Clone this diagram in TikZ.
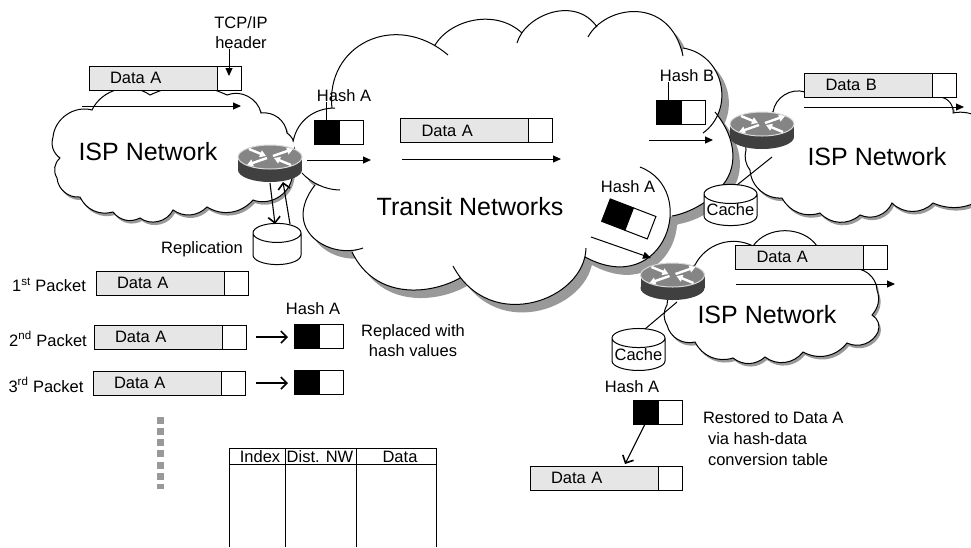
\documentclass[tikz,border=0pt]{standalone}
\usepackage{fontspec}
\setmainfont{Liberation Sans}
\usepackage{tikz}
\usetikzlibrary{arrows.meta,positioning,shapes.geometric}
\definecolor{dataGray}{HTML}{E6E6E6}
\definecolor{shadowGray}{HTML}{999999}
\definecolor{routerDark}{HTML}{404040}
\definecolor{routerTop}{HTML}{858585}
\definecolor{routerRim}{HTML}{D9D9D9}
\tikzset{
  every node/.style={font=\fontsize{16.5}{20}\selectfont,inner sep=0pt,outer sep=0pt},
  databox/.style={draw,line width=1pt,fill=dataGray,text width=86pt,inner xsep=21pt,minimum height=24pt,align=left},
  hdrbox/.style={draw,line width=1pt,fill=white,minimum width=24pt,minimum height=24pt},
  hashblack/.style={draw,line width=1pt,fill=black,minimum width=25pt,minimum height=24pt},
  hashwhite/.style={draw,line width=1pt,fill=white,minimum width=24pt,minimum height=24pt},
  cachedisk/.style={draw,line width=1pt,fill=white,cylinder,shape border rotate=90,aspect=0.4},
  netlabel/.style={font=\fontsize{25}{30}\selectfont},
  flow/.style={line width=1pt,-{Triangle[length=8pt,width=7pt]}},
  barb/.style={line width=1.1pt,-{Straight Barb[length=6pt,width=12pt,line width=1.6pt]}},
  cloudline/.style={line width=1pt},
  routerpic/.pic={
    \fill[routerDark] (-32,0) rectangle (32,13);
    \fill[routerDark] (0,13) ellipse[x radius=32,y radius=12];
    \filldraw[fill=routerTop,draw=routerRim,line width=1pt] (0,0) ellipse[x radius=32,y radius=12];
    \foreach \fx/\fy/\tx/\ty in {-21/-8/-4/-1,21/8/4/1,3/-1/23/-8,-3/1/-23/8}
      \draw[white,line width=2.4pt,-{Triangle[length=6pt,width=7pt]}] (\fx,\fy) -- (\tx,\ty);
    \node[minimum width=64pt,minimum height=37pt] (-hub) at (0,6.5) {};
  }
}
% cloud outlines, clockwise
\newcommand{\ispLeft}{(53,137) to[bend left=50] (92,110) to[bend left=50] (150,95) to[bend left=25] (227,95)
  to[bend left=50] (261,113) to[bend left=45] (287,133) to[bend left=40] (293,155) to[bend left=10] (292,178)
  to[bend left=50] (253,200) to[bend left=40] (207,207) to[bend left=40] (173,210) to[bend left=50] (140,218)
  to[bend left=40] (113,212) to[bend left=40] (80,197) to[bend left=45] (57,178) to[bend left=40] (60,158)
  to[bend left=35] (53,137) -- cycle}
\newcommand{\ispRight}{(750,170) to[bend left=25] (746,150) to[bend left=40] (773,112) to[bend left=50] (805,92)
  -- (940,97) to[bend left=45] (953,113) to[bend left=45] (995,140) -- (995,185) to[bend left=40] (933,203)
  to[bend left=45] (892,203) to[bend left=45] (860,215) to[bend left=45] (820,213) to[bend left=40] (782,198)
  to[bend left=45] (750,170) -- cycle}
\newcommand{\ispLower}{(667,305) to[bend left=30] (695,265) to[bend left=45] (753,246) to[bend left=55] (817,246)
  to[bend left=30] (850,269) to[bend left=50] (877,290) to[bend left=30] (872,315) to[bend left=40] (878,332)
  to[bend left=45] (847,343) to[bend left=40] (803,352) to[bend left=45] (765,357) to[bend left=40] (733,358)
  to[bend left=40] (695,342) to[bend left=45] (667,325) to[bend left=30] (667,305) -- cycle}
\newcommand{\transitLobes}{
  (293,142) .. controls (297,120) and (315,108) .. (335,108)
  (332,108) .. controls (325,45) and (395,10) .. (448,55)
  (435,45) .. controls (450,20) and (495,8) .. (522,33)
  (517,43) .. controls (525,15) and (575,-5) .. (597,27)
  (588,37) .. controls (605,5) and (670,-5) .. (683,56)
  (683,48) .. controls (725,55) and (735,110) .. (703,133)
  (715,112) .. controls (738,140) and (738,170) .. (720,188)
  (720,188) .. controls (712,200) and (690,213) .. (672,216)
  (640,167) .. controls (700,190) and (665,300) .. (585,257)
  (586,248) .. controls (585,300) and (490,335) .. (453,266)
  (460,278) .. controls (430,295) and (375,300) .. (352,252)
  (363,248) .. controls (330,260) and (280,230) .. (315,185)
  (340,190) .. controls (325,190) and (310,182) .. (302,173)}
\newcommand{\transitCore}{(293,142) -- (335,108) -- (332,108) -- (448,55) -- (435,45) -- (522,33) -- (517,43)
  -- (597,27) -- (588,37) -- (683,56) -- (683,48) -- (703,133) -- (715,112) -- (720,188) -- (672,216)
  -- (585,257) -- (586,248) -- (453,266) -- (460,278) -- (352,252) -- (363,248) -- (315,185) -- (340,190)
  -- (302,173) -- cycle}

\begin{document}
\begin{tikzpicture}[x=1pt,y=-1pt]
  \clip (0,0) rectangle (971,547);
  %ISP CLOUDS
  \fill[shadowGray,shift={(2,3)}] \ispLeft;
  \filldraw[fill=white,cloudline] \ispLeft;
  \fill[shadowGray,shift={(2,3)}] \ispRight;
  \filldraw[fill=white,cloudline] \ispRight;
  \fill[shadowGray,shift={(2,3)}] \ispLower;
  \filldraw[fill=white,cloudline] \ispLower;
  %TRANSIT CLOUD
  \fill[shadowGray,shift={(7,8)}] \transitLobes \transitCore;
  \fill[white] \transitLobes \transitCore;
  \draw[cloudline] \transitLobes;
  %NETWORK NAMES
  \node[netlabel] (nameL) at (148,152) {ISP Network};
  \node[netlabel] (nameR) at (877,157) {ISP Network};
  \node[netlabel] (nameB) at (767,315) {ISP Network};
  \node[netlabel] (nameT) at (470,207) {Transit Networks};
  %PACKETS
  \node[databox] (dTop) at (153,78) {Data A};
  \node[hdrbox,right=0pt of dTop] (hTop) {};
  \node[databox] (dMid) at (464.5,130.5) {Data A};
  \node[hdrbox,right=0pt of dMid] (hMid) {};
  \node[databox] (dB) at (868.5,85) {Data B};
  \node[hdrbox,right=0pt of dB] (hB) {};
  \node[databox] (dLow) at (799.5,257) {Data A};
  \node[hdrbox,right=0pt of dLow] (hLow) {};
  \node[databox] (dP1) at (160,283) {Data A};
  \node[hdrbox,right=0pt of dP1] (hP1) {};
  \node[databox] (dP2) at (158,337) {Data A};
  \node[hdrbox,right=0pt of dP2] (hP2) {};
  \node[databox] (dP3) at (157,383) {Data A};
  \node[hdrbox,right=0pt of dP3] (hP3) {};
  \node[databox] (dEnd) at (594,478) {Data A};
  \node[hdrbox,right=0pt of dEnd] (hEnd) {};
  %HASHES
  \node[hashblack] (kL) at (326.5,132) {};
  \node[hashwhite,right=0pt of kL] (wL) {};
  \node[hashblack] (kB) at (668.5,112.5) {};
  \node[hashwhite,right=0pt of kB] (wB) {};
  \node[hashblack,rotate=-21] (kR) at (617.6,214.6) {};
  \node[hashwhite,rotate=-21] (wR) at (640.4,223.4) {};
  \node[hashblack] (kP2) at (306.5,336) {};
  \node[hashwhite,right=0pt of kP2] (wP2) {};
  \node[hashblack] (kP3) at (306.5,382) {};
  \node[hashwhite,right=0pt of kP3] (wP3) {};
  \node[hashblack] (kEnd) at (645.5,412) {};
  \node[hashwhite,right=0pt of kEnd] (wEnd) {};
  %CACHES
  \node[cachedisk,minimum width=48pt,minimum height=37pt] (cRep) at (277,249) {\phantom{Cache}};
  \node[cachedisk,minimum width=53pt,minimum height=41pt] (cUp) at (730.5,210) {Cache};
  \node[cachedisk,minimum width=53pt,minimum height=42pt] (cLow) at (638.5,354.5) {Cache};
  %ROUTERS
  \pic (rL) at (270,157) {routerpic};
  \pic (rR) at (762,124) {routerpic};
  \pic (rB) at (672.5,275) {routerpic};
  %TEXTS
  \node[align=center] (tcp) at (241,33) {TCP/IP\\header};
  \node (lblL) at (344,96) {Hash A};
  \node (lblB) at (687,76) {Hash B};
  \node (lblR) at (628,187) {Hash A};
  \node (lblP) at (313,309) {Hash A};
  \node (lblE) at (632,387) {Hash A};
  \node (repl) at (202,249) {Replication};
  \node (pk1) at (49,285) {1\textsuperscript{st} Packet};
  \node (pk2) at (48,339) {2\textsuperscript{nd} Packet};
  \node (pk3) at (46,385) {3\textsuperscript{rd} Packet};
  \node[align=center] (repd) at (413,341) {Replaced with\\hash values};
  \node[align=left,anchor=west,font=\fontsize{16.5}{21}\selectfont] (rest) at (703,439) {Restored to Data A\\\hspace*{5pt}via hash-data\\\hspace*{5pt}conversion table};
  %CONNECTORS
  \coordinate (a1s) at (82,106);
  \coordinate (a1e) at (241,106);
  \coordinate (a2s) at (307,160);
  \coordinate (a2e) at (371,160);
  \coordinate (a3s) at (402,159);
  \coordinate (a3e) at (561,159);
  \coordinate (a4s) at (649,140);
  \coordinate (a4e) at (713,140);
  \coordinate (a5s) at (591,237);
  \coordinate (a5e) at (651,258);
  \coordinate (a6s) at (804,107);
  \coordinate (a6e) at (964,107);
  \coordinate (a7s) at (736,284);
  \coordinate (a7e) at (895,284);
  \coordinate (b2s) at (256,337);
  \coordinate (b3s) at (256,383);
  \coordinate (repA) at (270,183);
  \coordinate (repB) at (275,224);
  \coordinate (repC) at (290,224);
  \coordinate (repD) at (283,182);
  \coordinate (upA) at (772,157);
  \coordinate (upB) at (737,185);
  \coordinate (lowA) at (677,302);
  \coordinate (lowB) at (645,329);
  \coordinate (endA) at (645,424);
  \coordinate (endB) at (625,464);
  \path
  (a1s) edge [flow] (a1e)
  (a2s) edge [flow] (a2e)
  (a3s) edge [flow] (a3e)
  (a4s) edge [flow] (a4e)
  (a5s) edge [flow] (a5e)
  (a6s) edge [flow] (a6e)
  (a7s) edge [flow] (a7e)
  (tcp.south -| hTop) edge [flow,shorten >=2pt] (hTop.center)
  (b2s) edge [barb,shorten >=6pt] (b2s -| kP2.west)
  (b3s) edge [barb,shorten >=6pt] (b3s -| kP3.west)
  (repA) edge [barb] (repB)
  (repC) edge [barb] (repD)
  (endA) edge [barb] (endB)
  (upA) edge [draw,line width=1pt] (upB)
  (lowA) edge [draw,line width=1pt] (lowB)
  (kL.north) edge [draw,line width=1pt] (kL.north |- lblL.south)
  (kB.north) edge [draw,line width=1pt] (kB.north |- lblB.south)
  ;
  %DOTS
  \foreach \dy in {420.7,431.7,442.7,453.7,465,476}
    \fill[shadowGray] (157,\dy-3.5) rectangle (164,\dy+3.5);
  \fill[shadowGray] (157,484) rectangle (164,488.5);
  %TABLE
  \draw[line width=1pt] (229,547) |- (436,448) -- (436,547);
  \draw[line width=1pt] (229,464) -- (436,464);
  \draw[line width=1pt] (285,448) -- (285,547);
  \draw[line width=1pt] (356,448) -- (356,547);
  \node (thIdx) at (260,457) {Index};
  \node (thDst) at (320,457) {Dist. NW};
  \node (thDat) at (400,457) {Data};
\end{tikzpicture}
\end{document}
